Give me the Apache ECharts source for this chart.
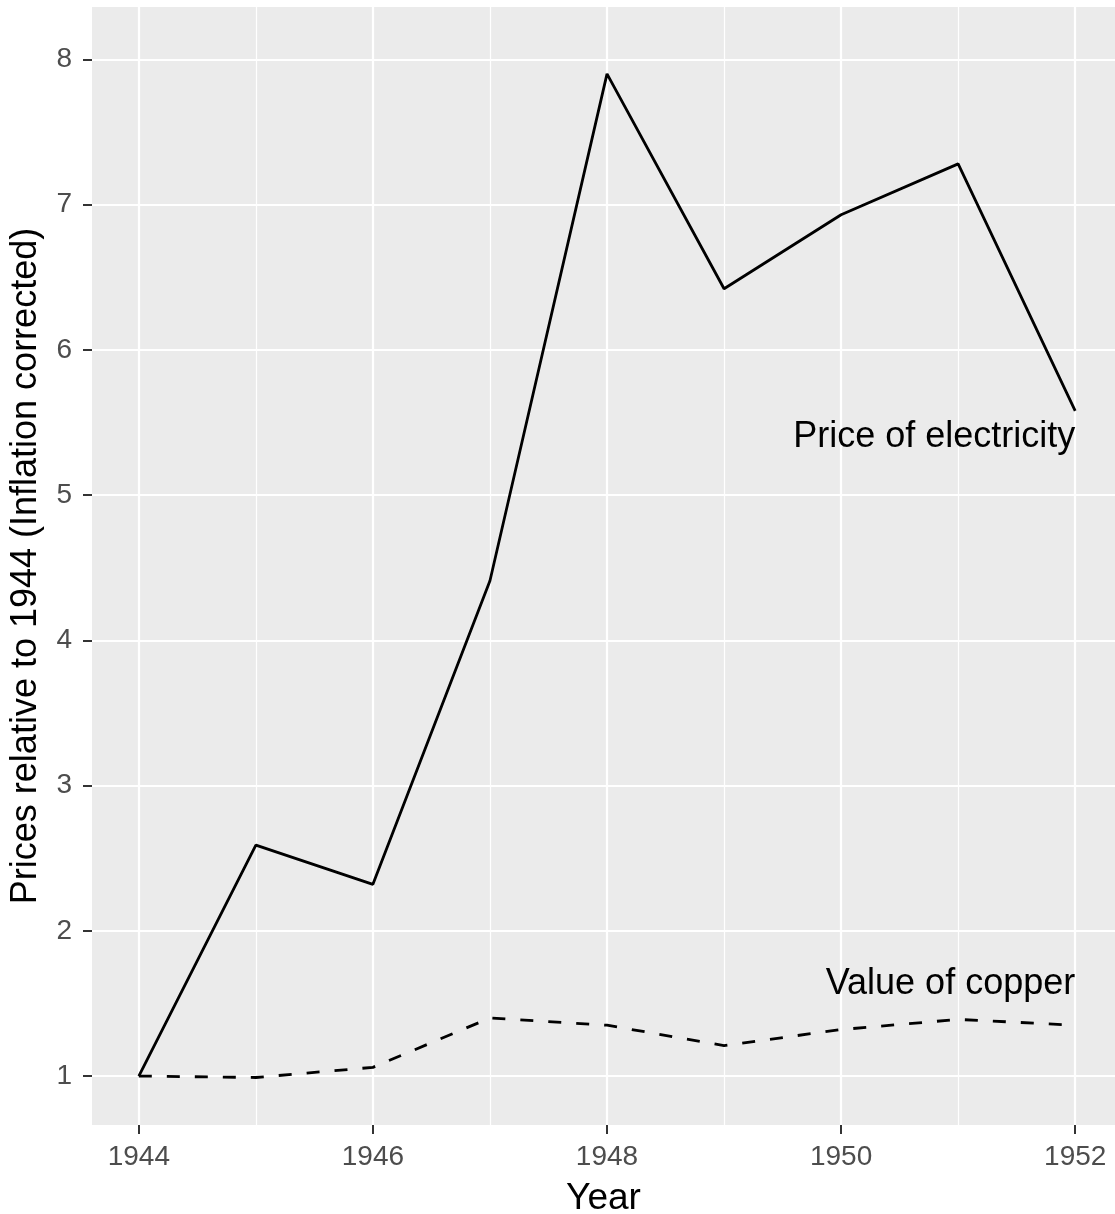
<!DOCTYPE html>
<html>
<head>
<meta charset="utf-8">
<script src="https://cdn.jsdelivr.net/npm/echarts@6/dist/echarts.min.js"></script>
<style>
  html, body { margin: 0; padding: 0; background: #fff; }
  #chart { width: 1115px; height: 1214px; }
</style>
</head>
<body>
<div id="chart"></div>
<script>
// data
var years = [1944, 1945, 1946, 1947, 1948, 1949, 1950, 1951, 1952];
var electricity = [1.0, 2.59, 2.32, 4.41, 7.90, 6.42, 6.93, 7.28, 5.58];
var copper = [1.0, 0.99, 1.06, 1.40, 1.35, 1.21, 1.32, 1.39, 1.35];
var xMajor = [1944, 1946, 1948, 1950, 1952];
var xMinor = [1945, 1947, 1949, 1951];
var yTicks = [1, 2, 3, 4, 5, 6, 7, 8];
var labelElec = [1952, 5.4, 'Price of electricity'];
var labelCopper = [1952, 1.63, 'Value of copper'];

var font = '"Liberation Sans", Arial, Helvetica, sans-serif';
var xMin = 1943.6, xMax = 1952.34;

function pairs(ys) {
  return years.map(function (y, i) { return [y, ys[i]]; });
}

function endText(item) {
  return {
    symbol: 'circle',
    symbolSize: 0,
    animation: false,
    data: [{
      coord: [item[0], item[1]],
      label: {
        show: true,
        position: 'left',
        distance: 0,
        formatter: item[2],
        color: '#000',
        fontSize: 36,
        fontFamily: font
      }
    }]
  };
}

var chart = echarts.init(document.getElementById('chart'));
chart.setOption({
  animation: false,
  backgroundColor: '#fff',
  grid: {
    left: 92, right: 0, top: 7, bottom: 89,
    outerBoundsMode: 'none',
    show: true, backgroundColor: '#EBEBEB', borderWidth: 0
  },
  xAxis: [
    {
      type: 'value', min: xMin, max: xMax,
      name: 'Year', nameLocation: 'middle', nameGap: 55,
      nameTextStyle: { color: '#000', fontSize: 37, fontFamily: font },
      axisLine: { show: false },
      axisTick: { show: true, length: 9, customValues: xMajor, lineStyle: { color: '#333', width: 2 } },
      axisLabel: {
        customValues: xMajor, margin: 18, color: '#4D4D4D', fontSize: 28, fontFamily: font,
        formatter: function (v) { return String(v); }
      },
      splitLine: { show: true, lineStyle: { color: '#fff', width: 2.2 } }
    },
    {
      type: 'value', min: xMin, max: xMax, position: 'bottom',
      axisLine: { show: false },
      axisTick: { show: false, customValues: xMinor },
      axisLabel: { show: false },
      splitLine: { show: true, lineStyle: { color: '#fff', width: 1.2 } }
    }
  ],
  yAxis: {
    type: 'value', min: 0.663, max: 8.36,
    name: 'Prices relative to 1944 (Inflation corrected)',
    nameLocation: 'middle', nameGap: 48,
    nameTextStyle: { color: '#000', fontSize: 36, fontFamily: font },
    axisLine: { show: false },
    axisTick: { show: true, length: 9, customValues: yTicks, lineStyle: { color: '#333', width: 2 } },
    axisLabel: { customValues: yTicks, margin: 20, color: '#4D4D4D', fontSize: 28, fontFamily: font },
    splitLine: { show: true, lineStyle: { color: '#fff', width: 2.2 } }
  },
  series: [
    {
      name: 'Price of electricity', type: 'line', xAxisIndex: 0,
      data: pairs(electricity),
      showSymbol: false, symbol: 'none',
      lineStyle: { color: '#000', width: 2.8, type: 'solid' },
      markPoint: endText(labelElec),
      z: 3
    },
    {
      name: 'Value of copper', type: 'line', xAxisIndex: 0,
      data: pairs(copper),
      showSymbol: false, symbol: 'none',
      lineStyle: { color: '#000', width: 2.8, type: [13, 15] },
      markPoint: endText(labelCopper),
      z: 3
    }
  ]
});
</script>
</body>
</html>
